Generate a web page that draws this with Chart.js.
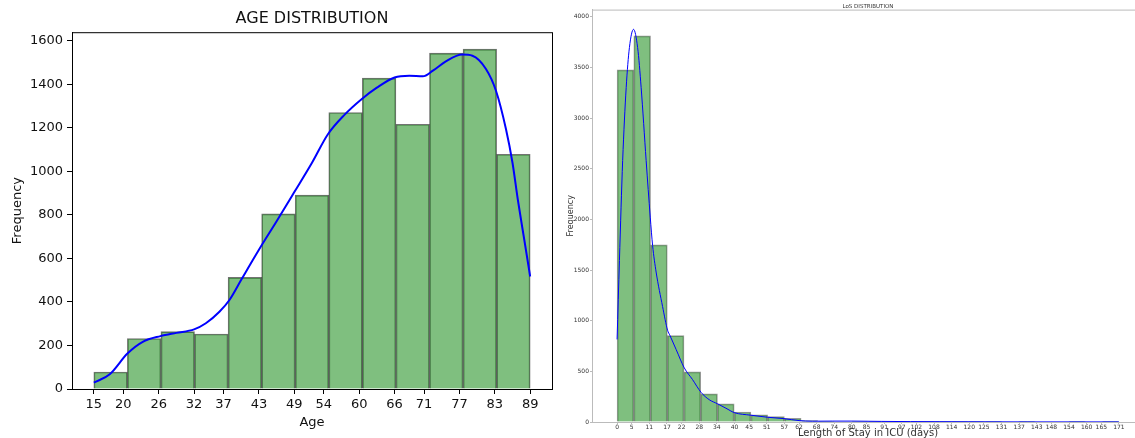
<!DOCTYPE html>
<html>
<head>
<meta charset="utf-8">
<script src="https://cdn.jsdelivr.net/npm/chart.js@4/dist/chart.umd.min.js"></script>
<style>
    html, body { margin: 0; padding: 0; background: #fff; overflow: hidden; }
    body { width: 1135px; height: 438px; position: relative; }
    #ageChart { position: absolute; left: 0; top: 0; }
    #losChart { position: absolute; left: 560px; top: 0; }
</style>
</head>
<body>
<canvas id="ageChart" width="560" height="438"></canvas>
<canvas id="losChart" width="600" height="438"></canvas>
<script>
(function() {
    'use strict';

    // AGE histogram: 13 bins between 15 and 89
    var ageBinEdges = [15, 20.69, 26.38, 32.08, 37.77, 43.46, 49.15, 54.85, 60.54, 66.23, 71.92, 77.62, 83.31, 89];
    var ageCounts = [78, 232, 264, 253, 513, 805, 891, 1271, 1429, 1217, 1544, 1562, 1079];
    var ageTicks = [15, 20, 26, 32, 37, 43, 49, 54, 60, 66, 71, 77, 83, 89];
    var ageFreqTicks = [0, 200, 400, 600, 800, 1000, 1200, 1400, 1600];
    // density curve (already scaled to counts)
    var ageKdeX = [15, 17.7, 20.7, 23.3, 26.3, 29, 32, 34, 36.3, 38, 40, 43, 46, 49, 52, 54.7, 57.5, 60.4, 63, 66,
        68.5, 70.8, 72.5, 74.7, 77.5, 79.2, 81.5, 83.2, 84.9, 86, 86.9, 88, 89];
    var ageKdeY = [29, 68, 163, 217, 243, 258, 274, 302, 355, 409, 502, 640, 771, 905, 1040, 1171, 1260, 1332, 1385, 1432,
        1440, 1437, 1463, 1506, 1537, 1532, 1471, 1371, 1194, 1040, 871, 686, 517];

    // LoS histogram: 30 bins between 0 and 171 days
    var losBinEdges = [0, 5.7, 11.4, 17.1, 22.8, 28.5, 34.2, 39.9, 45.6, 51.3, 57, 62.7, 68.4, 74.1, 79.8, 85.5,
        91.2, 96.9, 102.6, 108.3, 114, 119.7, 125.4, 131.1, 136.8, 142.5, 148.2, 153.9, 159.6, 165.3, 171];
    var losCounts = [3475, 3810, 1748, 852, 494, 278, 179, 99, 70, 53, 37, 13, 7, 5, 10, 6, 5, 4, 3, 2,
        2, 1, 1, 0, 1, 0, 0, 1, 0, 1];
    var losTicks = [0, 5, 11, 17, 22, 28, 34, 40, 45, 51, 57, 62, 68, 74, 80, 85, 91, 97, 102, 108, 114, 120,
        125, 131, 137, 143, 148, 154, 160, 165, 171];
    var losFreqTicks = [0, 500, 1000, 1500, 2000, 2500, 3000, 3500, 4000];
    var losKdeX = [0, 0.8, 1.9, 3.1, 4.2, 5.6, 7.0, 8.2, 9.9, 11.3, 12.1, 13.3, 15.5, 17.2, 18.0, 20.1, 22.9, 25.7,
        28.6, 31.4, 34.2, 37.1, 39.9, 45.6, 51.2, 56.9, 62, 66.5, 73.3, 80, 90, 100, 110, 125, 140, 155, 171];
    var losKdeY = [815, 1595, 2580, 3300, 3695, 3875, 3695, 3300, 2580, 2022, 1743, 1480, 1140, 906, 855, 717, 534, 419,
        293, 220, 180, 136, 93, 67, 47, 33, 14, 8, 9, 9, 6, 4, 3, 2, 1, 1, 1];

    var FONT = "'DejaVu Sans', sans-serif";

    function binPoints(edges, counts) {
        var pts = [];
        for (var i = 0; i < counts.length; i++) {
            pts.push({x: (edges[i] + edges[i + 1]) / 2, y: counts[i]});
        }
        return pts;
    }

    function linePoints(xs, ys) {
        var pts = [];
        for (var i = 0; i < xs.length; i++) {
            pts.push({x: xs[i], y: ys[i]});
        }
        return pts;
    }

    function fixedTicks(values) {
        return function(scale) {
            scale.ticks = values.map(function(v) { return {value: v}; });
        };
    }

    // plain numbers, no thousands separator
    function plainLabel(v) {
        return String(v);
    }

    // matplotlib style box around the plot area
    function framePlugin(color, width) {
        return {
            id: 'frame',
            afterDatasetsDraw: function(chart) {
                var a = chart.chartArea, ctx = chart.ctx;
                ctx.save();
                ctx.strokeStyle = color;
                ctx.lineWidth = width;
                ctx.strokeRect(a.left + 0.5, a.top + 0.5, a.right - a.left, a.bottom - a.top);
                ctx.restore();
            }
        };
    }

    function makeChart(id, cfg) {
        return new Chart(document.getElementById(id).getContext('2d'), {
            type: 'bar',
            data: {
                datasets: [{
                    type: 'line',
                    data: linePoints(cfg.kdeX, cfg.kdeY),
                    borderColor: '#0000ff',
                    borderWidth: cfg.lineWidth,
                    pointRadius: 0,
                    cubicInterpolationMode: 'monotone',
                    fill: false,
                    order: 0
                }, {
                    type: 'bar',
                    data: binPoints(cfg.edges, cfg.counts),
                    backgroundColor: 'rgba(0,128,0,0.5)',
                    borderColor: cfg.edgeColor,
                    borderWidth: 1,
                    // bars touch each other like a histogram
                    barThickness: 'flex',
                    barPercentage: 1,
                    categoryPercentage: 1,
                    order: 1
                }]
            },
            options: {
                responsive: false,
                animation: false,
                devicePixelRatio: 1,
                layout: {padding: cfg.padding},
                plugins: {
                    legend: {display: false},
                    tooltip: {enabled: false},
                    title: {
                        display: true,
                        text: cfg.title,
                        fullSize: false,
                        color: cfg.textColor,
                        font: {family: FONT, size: cfg.titleSize, weight: 'normal', lineHeight: 1.2},
                        padding: cfg.titlePad
                    }
                },
                scales: {
                    x: {
                        type: 'linear',
                        offset: false,
                        min: cfg.xMin,
                        max: cfg.xMax,
                        afterBuildTicks: fixedTicks(cfg.xTicks),
                        afterFit: function(s) { s.height = cfg.xAxisHeight; },
                        grid: {drawOnChartArea: false, offset: false, tickLength: cfg.tickLen, color: cfg.axisColor},
                        border: {color: cfg.axisColor},
                        ticks: {
                            autoSkip: false, maxRotation: 0, padding: cfg.xTickPad, color: cfg.textColor,
                            font: {family: FONT, size: cfg.tickSize},
                            callback: plainLabel
                        },
                        title: {
                            display: true, text: cfg.xLabel, color: cfg.textColor,
                            font: {family: FONT, size: cfg.xLabelSize, lineHeight: 1.2},
                            padding: {top: 0, bottom: cfg.xLabelPad}
                        }
                    },
                    y: {
                        min: 0,
                        max: cfg.yMax,
                        afterBuildTicks: fixedTicks(cfg.yTicks),
                        afterFit: function(s) { s.width = cfg.yAxisWidth; },
                        grid: {drawOnChartArea: false, tickLength: cfg.tickLen, color: cfg.axisColor},
                        border: {color: cfg.axisColor},
                        ticks: {
                            padding: cfg.yTickPad, color: cfg.textColor,
                            font: {family: FONT, size: cfg.tickSize},
                            callback: plainLabel
                        },
                        title: {
                            display: true, text: 'Frequency', color: cfg.textColor,
                            font: {family: FONT, size: cfg.yLabelSize, lineHeight: 1.2},
                            padding: {top: cfg.yLabelPad, bottom: 0}
                        }
                    }
                }
            },
            plugins: [framePlugin(cfg.axisColor, 1)]
        });
    }

    makeChart('ageChart', {
        title: 'AGE DISTRIBUTION', titleSize: 16, titlePad: {top: 9, bottom: 4},
        edges: ageBinEdges, counts: ageCounts, kdeX: ageKdeX, kdeY: ageKdeY,
        xTicks: ageTicks, yTicks: ageFreqTicks,
        xMin: 11.3, xMax: 92.7, yMax: 1640,
        xLabel: 'Age', xLabelSize: 13, xLabelPad: 8,
        yLabelSize: 13, yLabelPad: 10,
        tickSize: 13, tickLen: 5, xTickPad: 3, yTickPad: 4,
        xAxisHeight: 49, yAxisWidth: 72,
        padding: {top: 0, right: 8, bottom: 0, left: 0},
        lineWidth: 2, edgeColor: 'rgba(0,0,0,0.55)',
        axisColor: '#000', textColor: '#111'
    });

    makeChart('losChart', {
        title: 'LoS DISTRIBUTION', titleSize: 5.5, titlePad: {top: 3, bottom: 0},
        edges: losBinEdges, counts: losCounts, kdeX: losKdeX, kdeY: losKdeY,
        xTicks: losTicks, yTicks: losFreqTicks,
        xMin: -8.55, xMax: 179.55, yMax: 4070,
        xLabel: 'Length of Stay in ICU (days)', xLabelSize: 10, xLabelPad: -1,
        yLabelSize: 8, yLabelPad: 6,
        tickSize: 6, tickLen: 2, xTickPad: 0, yTickPad: 1,
        xAxisHeight: 16, yAxisWidth: 32,
        padding: {top: 0, right: 16, bottom: 0, left: 0},
        lineWidth: 1, edgeColor: 'rgba(0,0,0,0.4)',
        axisColor: '#bbb', textColor: '#333'
    });
}());
</script>
</body>
</html>
